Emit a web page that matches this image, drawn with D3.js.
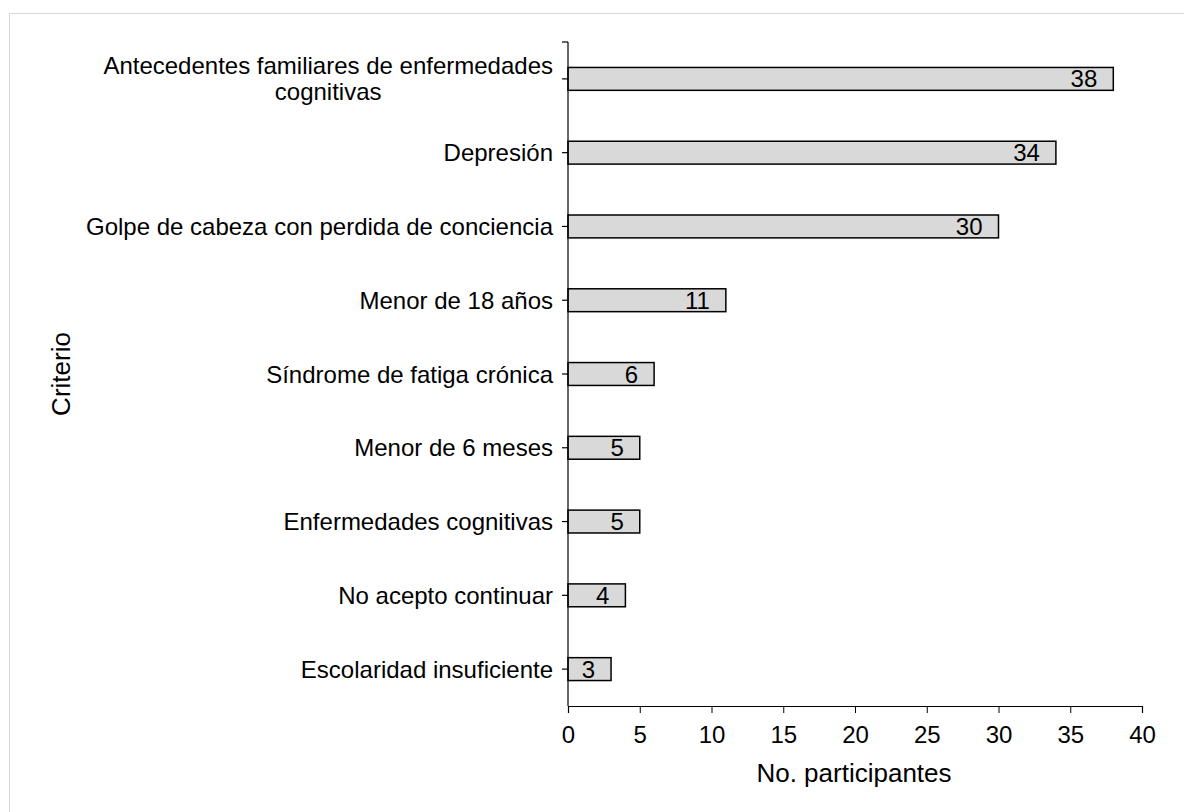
<!DOCTYPE html>
<html>
<head>
<meta charset="utf-8">
<script src="https://cdn.jsdelivr.net/npm/d3@7"></script>
<style>
  body { margin: 0; background: #fff; }
  svg { font-family: "Liberation Sans", Arial, sans-serif; }
</style>
</head>
<body>
<svg id="chart" width="1184" height="812"></svg>
<script>
const categories = [
  ["Antecedentes familiares de enfermedades", "cognitivas"],
  ["Depresión"],
  ["Golpe de cabeza con perdida de conciencia"],
  ["Menor de 18 años"],
  ["Síndrome de fatiga crónica"],
  ["Menor de 6 meses"],
  ["Enfermedades cognitivas"],
  ["No acepto continuar"],
  ["Escolaridad insuficiente"]
];
const values = [38, 34, 30, 11, 6, 5, 5, 4, 3];
const xTicks = [0, 5, 10, 15, 20, 25, 30, 35, 40];

const svg = d3.select("#chart");
const margin = { top: 42, left: 568, right: 42, bottom: 106 };
const width = 1184 - margin.left - margin.right;
const height = 812 - margin.top - margin.bottom;

svg.append("rect")
  .attr("x", 9.5).attr("y", 13.5)
  .attr("width", 1180).attr("height", 810)
  .attr("fill", "none").attr("stroke", "#d9d9d9");

const g = svg.append("g").attr("transform", "translate(" + margin.left + "," + margin.top + ")");

const x = d3.scaleLinear().domain([0, 40]).range([0, width]);
const y = d3.scaleBand().domain(d3.range(categories.length)).range([0, height]).paddingInner(0.69).paddingOuter(0.345);

// bars
g.selectAll("rect.bar")
  .data(values)
  .enter()
  .append("rect")
  .attr("class", "bar")
  .attr("x", 0)
  .attr("y", (d, i) => y(i))
  .attr("width", (d) => x(d))
  .attr("height", y.bandwidth())
  .attr("fill", "#d9d9d9")
  .attr("stroke", "#000")
  .attr("stroke-width", 1.5);

g.selectAll("text.val")
  .data(values)
  .enter()
  .append("text")
  .attr("class", "val")
  .attr("x", (d) => x(d) - 16)
  .attr("y", (d, i) => y(i) + y.bandwidth() / 2 + 8.5)
  .attr("text-anchor", "end")
  .style("font-size", "24px")
  .text((d) => d);

// x axis
const xAxis = g.append("g")
  .attr("transform", "translate(0," + height + ")")
  .call(d3.axisBottom(x).tickValues(xTicks).tickSize(7).tickSizeOuter(7));
xAxis.select(".domain").attr("stroke", "#000").attr("stroke-width", 1.2);
xAxis.selectAll("line").attr("stroke", "#000");
xAxis.selectAll("text")
  .style("font-size", "24px")
  .style("font-family", "'Liberation Sans', Arial, sans-serif")
  .attr("fill", "#000")
  .attr("y", 37)
  .attr("dy", 0);

// y axis
g.append("line")
  .attr("x1", 0).attr("x2", 0).attr("y1", 0).attr("y2", height)
  .attr("stroke", "#000").attr("stroke-width", 1.2);
g.append("line")
  .attr("x1", -6).attr("x2", 0).attr("y1", 0).attr("y2", 0)
  .attr("stroke", "#000").attr("stroke-width", 1.2);
g.selectAll("line.ytick")
  .data(categories)
  .enter()
  .append("line")
  .attr("class", "ytick")
  .attr("x1", -6).attr("x2", 0)
  .attr("y1", (d, i) => y(i) + y.bandwidth() / 2)
  .attr("y2", (d, i) => y(i) + y.bandwidth() / 2)
  .attr("stroke", "#000").attr("stroke-width", 1.2);

const labels = g.selectAll("g.ylab")
  .data(categories)
  .enter()
  .append("g")
  .attr("class", "ylab")
  .attr("transform", (d, i) => "translate(-15," + (y(i) + y.bandwidth() / 2) + ")");

labels.each(function (lines) {
  const sel = d3.select(this);
  if (lines.length === 1) {
    sel.append("text")
      .attr("text-anchor", "end")
      .attr("y", 8.5)
      .style("font-size", "24px")
      .text(lines[0]);
  } else {
    const t = sel.append("text")
      .attr("text-anchor", "end")
      .attr("y", -13 + 8)
      .style("font-size", "24px")
      .text(lines[0]);
    const w = t.node().getComputedTextLength();
    sel.append("text")
      .attr("text-anchor", "middle")
      .attr("x", -w / 2)
      .attr("y", 13 + 8)
      .style("font-size", "24px")
      .text(lines[1]);
  }
});

// axis titles
svg.append("text")
  .attr("x", 854)
  .attr("y", 782)
  .attr("text-anchor", "middle")
  .style("font-size", "26px")
  .text("No. participantes");

svg.append("text")
  .attr("transform", "translate(70," + (margin.top + height / 2) + ") rotate(-90)")
  .attr("text-anchor", "middle")
  .style("font-size", "26px")
  .text("Criterio");
</script>
</body>
</html>
